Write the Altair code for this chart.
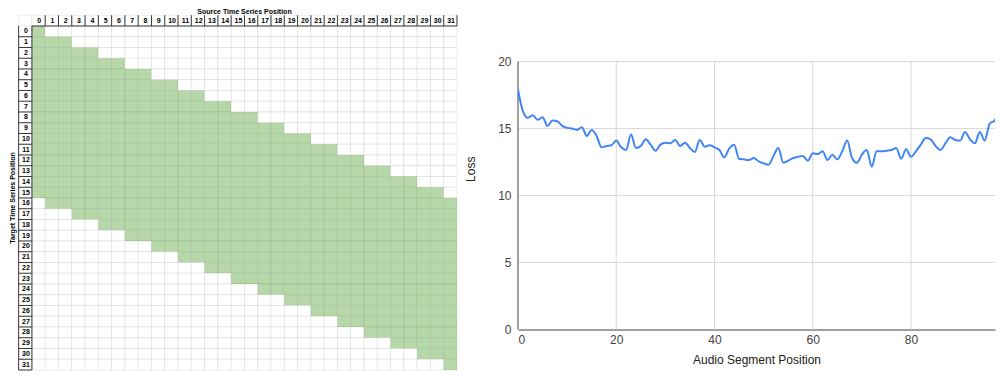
import altair as alt
import pandas as pd

# ---------------- data ----------------
positions = list(range(32))
# first / last green source column for each target row
green_start = [0] * 16 + [1, 3, 5, 7, 9, 11, 13, 15, 17, 19, 21, 23, 25, 27, 29, 31]
green_end = [0, 2, 4, 6, 8, 10, 12, 14, 16, 18, 20, 22, 24, 26, 28, 30] + [31] * 16

seg_pos = list(range(100))
loss = [17.9, 16.3, 15.8, 16.0, 15.65, 15.85, 15.2, 15.6, 15.55, 15.2,
        15.05, 15.0, 14.9, 15.1, 14.45, 14.9, 14.45, 13.6, 13.7, 13.75,
        14.1, 13.6, 13.4, 14.55, 13.55, 13.7, 14.2, 13.8, 13.35, 13.8,
        13.95, 13.9, 14.15, 13.7, 13.95, 13.55, 13.25, 14.15, 13.65, 13.75,
        13.6, 13.4, 12.85, 13.5, 13.8, 12.75, 12.7, 12.65, 12.8, 12.55,
        12.4, 12.3, 12.95, 13.55, 12.45, 12.6, 12.8, 12.9, 12.95, 12.6,
        13.15, 13.1, 13.3, 12.65, 13.05, 12.7, 13.3, 14.1, 12.8, 12.45,
        13.05, 13.4, 12.15, 13.3, 13.3, 13.35, 13.4, 13.55, 12.75, 13.45,
        12.9, 13.3, 13.8, 14.3, 14.2, 13.7, 13.4, 13.9, 14.35, 14.15,
        14.1, 14.75, 14.2, 13.9, 14.75, 14.1, 15.35, 15.6, 16.3, 17.0]
x_ticks = [0, 20, 40, 60, 80]
y_ticks = [0, 5, 10, 15, 20]

FONT = "Liberation Sans"

# ---------------- left: mask grid ----------------
cells = []
for r in positions:
    for c in positions:
        on = green_start[r] <= c <= green_end[r]
        cells.append(dict(c=c, c2=c + 1, r=r, r2=r + 1, kind="green" if on else "white"))
for c in [-1] + positions:
    cells.append(dict(c=c, c2=c + 1, r=-1, r2=0, kind="header"))
for r in positions:
    cells.append(dict(c=-1, c2=0, r=r, r2=r + 1, kind="header"))
cells_df = pd.DataFrame(cells)

rules = []
for c in positions:
    rules.append(dict(x=c + 1, x2=c + 1, y=-1, y2=0))
for r in positions:
    rules.append(dict(x=-1, x2=0, y=r + 1, y2=r + 1))
rules.append(dict(x=0, x2=32, y=0, y2=0))
rules.append(dict(x=0, x2=0, y=0, y2=32))
rules.append(dict(x=-1, x2=-1, y=0, y2=32))
rules_df = pd.DataFrame(rules)

labels = []
for c in positions:
    labels.append(dict(x=c + 0.55, y=-0.5, t=str(c)))
for r in positions:
    labels.append(dict(x=-0.45, y=r + 0.5, t=str(r)))
labels_df = pd.DataFrame(labels)

xs = alt.Scale(domain=[-1.8, 32], nice=False, zero=False)
ys = alt.Scale(domain=[-1.674, 32], nice=False, zero=False, reverse=True)

grid = alt.Chart(cells_df).mark_rect(stroke="#000000", strokeOpacity=0.07, strokeWidth=1).encode(
    x=alt.X("c:Q", scale=xs, axis=None),
    x2="c2:Q",
    y=alt.Y("r:Q", scale=ys, axis=None),
    y2="r2:Q",
    fill=alt.Fill("kind:N", scale=alt.Scale(domain=["green", "white", "header"],
                                            range=["#b6d7a8", "#ffffff", "#ffffff"]), legend=None),
)

dark = alt.Chart(rules_df).mark_rule(color="#3a3a3a", strokeWidth=1).encode(
    x=alt.X("x:Q", scale=xs, axis=None), x2="x2:Q",
    y=alt.Y("y:Q", scale=ys, axis=None), y2="y2:Q",
)

txt = alt.Chart(labels_df).mark_text(font=FONT, fontSize=7, fontWeight="bold", color="#000000").encode(
    x=alt.X("x:Q", scale=xs, axis=None),
    y=alt.Y("y:Q", scale=ys, axis=None),
    text="t:N",
)

top_title = alt.Chart(pd.DataFrame({"x": [16], "y": [-1.3], "t": ["Source Time Series Position"]})).mark_text(
    font=FONT, fontSize=7, fontWeight="bold", color="#000000").encode(
    x=alt.X("x:Q", scale=xs, axis=None), y=alt.Y("y:Q", scale=ys, axis=None), text="t:N")

side_title = alt.Chart(pd.DataFrame({"x": [-1.4], "y": [16], "t": ["Target Time Series Position"]})).mark_text(
    font=FONT, fontSize=7, fontWeight="bold", color="#000000", angle=270).encode(
    x=alt.X("x:Q", scale=xs, axis=None), y=alt.Y("y:Q", scale=ys, axis=None), text="t:N")

left = alt.layer(grid, dark, txt, top_title, side_title).properties(width=449, height=362)

# ---------------- right: loss line ----------------
RW, RH = 477, 321.5
xr = alt.Scale(domain=[0, 97.1], nice=False, zero=False)
yr = alt.Scale(domain=[0, 24], nice=False, zero=True)

XT = "Audio Segment Position"
YT = "Loss"
xaxis = alt.Axis(values=x_ticks, grid=False, ticks=False, tickSize=0, labelPadding=5,
                 domainColor="#808080", domainWidth=1.5, titlePadding=9)
yaxis = alt.Axis(values=y_ticks, grid=False, ticks=False, tickSize=0, domain=False,
                 labelPadding=7, titlePadding=20)

hgrid = alt.Chart(pd.DataFrame({"v": y_ticks[1:]})).mark_rule(color="#d9d9d9", strokeWidth=1).encode(
    y=alt.Y("v:Q", scale=yr, axis=yaxis, title=YT), x=alt.value(0), x2=alt.value(RW))
vgrid = alt.Chart(pd.DataFrame({"v": x_ticks[1:]})).mark_rule(color="#d9d9d9", strokeWidth=1).encode(
    x=alt.X("v:Q", scale=xr, axis=xaxis, title=XT), y=alt.datum(0), y2=alt.datum(20))
ybase = alt.Chart(pd.DataFrame({"v": [0]})).mark_rule(color="#808080", strokeWidth=1.5).encode(
    x=alt.X("v:Q", scale=xr, axis=xaxis, title=XT), y=alt.datum(0), y2=alt.datum(20))

line = alt.Chart(pd.DataFrame({"pos": seg_pos, "loss": loss})).mark_line(
    color="#4285f4", strokeWidth=2, interpolate="monotone", clip=True).encode(
    x=alt.X("pos:Q", scale=xr, axis=xaxis, title=XT),
    y=alt.Y("loss:Q", scale=yr, axis=yaxis, title=YT),
)

right = alt.layer(hgrid, vgrid, ybase, line).properties(width=RW, height=RH)

chart = alt.hconcat(left, right, spacing=6).properties(padding=0).configure_view(
    strokeWidth=0
).configure_axis(
    labelFont=FONT, titleFont=FONT, labelFontSize=12, titleFontSize=12,
    labelColor="#444444", titleColor="#222222", titleFontWeight="normal",
)

chart.save("out.html", embed_options={"renderer": "svg", "actions": False})
